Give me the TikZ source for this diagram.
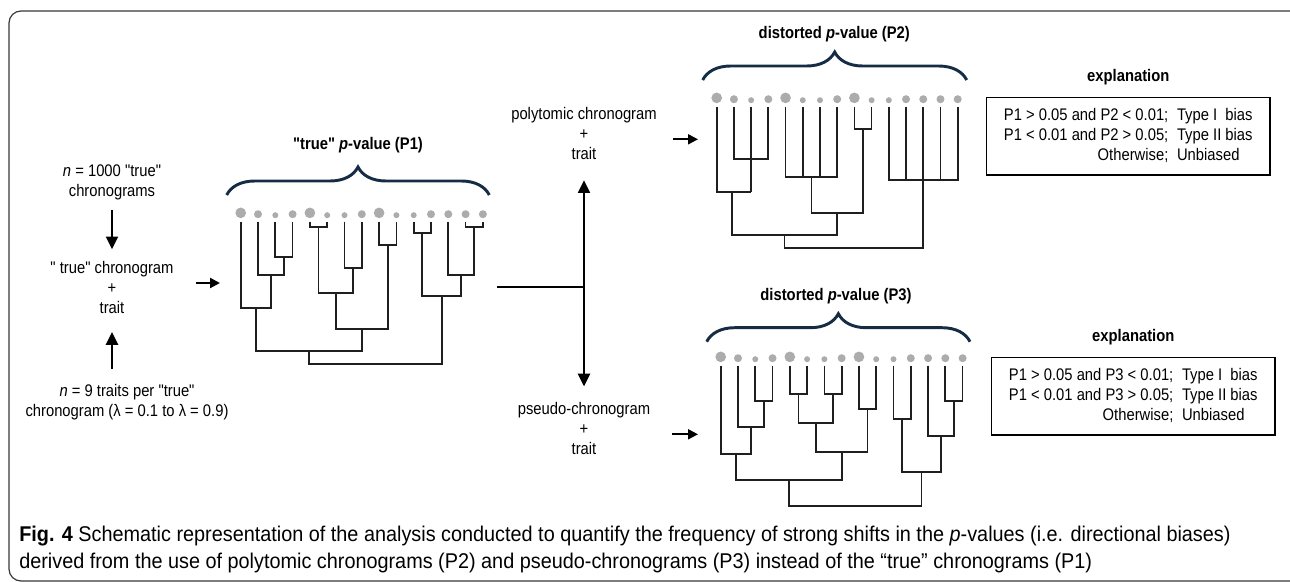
\documentclass[tikz,border=0pt]{standalone}
\usepackage{fontspec}
\setmainfont{Liberation Sans}[Ligatures=TeXOff,FakeStretch=0.88]
\newfontfamily\capfont{Liberation Sans}[Ligatures=TeXOff,FakeStretch=0.93]
\usepackage{tikz}
\usetikzlibrary{
  arrows.meta,
  positioning,
  calc,
  decorations.pathreplacing}
\definecolor{bracenavy}{RGB}{22,44,68}
\definecolor{leafgray}{RGB}{172,172,172}
\definecolor{framegray}{RGB}{55,55,55}
\tikzset{every picture/.style={font=\fontsize{12.6}{15}\selectfont}}
\def\leafsizes{0/4,1/3,2/2.25,3/3,4/4,5/2.25,6/2.25,7/3,8/4,9/2.25,10/2.25,11/3,12/3,13/3,14/3}

\begin{document}
\begin{tikzpicture}[x=0.75pt,y=-0.75pt,
  branch/.style={line width=1.3pt,draw=black!88,line join=miter},
  bigarrow/.style={line width=1.6pt,-{Triangle[length=9.5pt,width=9pt]}},
  smallarrow/.style={line width=1.6pt,-{Triangle[length=7.5pt,width=7.5pt]}},
  curly/.style={decorate,decoration={brace,amplitude=21pt},line width=2.2pt,draw=bracenavy},
  bracelabel/.style={font=\fontsize{12.6}{15}\selectfont\bfseries},
  stage/.style={align=center,inner sep=2pt},
  explbox/.style={draw,line width=0.9pt,minimum width=212.5pt,minimum height=58.3pt,inner sep=0pt}]
\useasboundingbox (0,0) rectangle (1290,582);
\draw[framegray,line width=0.9pt,rounded corners=9pt] (9,581) rectangle (1310,11);

% left column
\node[stage] (nTrue) at (112,182.5) {\textit{n} = 1000 "true"\\chronograms};
\node[stage] (trueC) at (112,287) {" true" chronogram\\+\\trait};
\node[stage] (nTraits) at (127,402) {\textit{n} = 9 traits per "true"\\chronogram (λ = 0.1 to λ = 0.9)};
\draw[bigarrow,shorten <=5.5pt,shorten >=6.5pt] (nTrue) -- (trueC);
\draw[bigarrow,shorten <=9pt,shorten >=12pt] (nTraits.north -| trueC) -- (trueC.south);
\coordinate (p1in) at (220,283);
\draw[smallarrow] ([xshift=14.5pt]trueC.east |- p1in) -- (p1in);

% true tree
\node[bracelabel] (p1lab) at (358,145) {"true" \textit{p}-value (P1)};
\draw[curly] (226.7,195) -- (489.3,195);
\begin{scope}[shift={(240.7,221.7)},x=12.975pt]
  \foreach \i/\r in \leafsizes
    \fill[leafgray] (\i,-3.5) ++(0pt,\r pt) circle[radius=\r pt];
  \draw[branch] (2,0) |- (3,35) -- (3,0);
  \draw[branch] (1,0) |- (2.5,53.3) -- (2.5,35);
  \draw[branch] (0,0) |- (1.75,86) -- (1.75,53.3);
  \draw[branch] (4,0) |- (5,5.6) -- (5,0);
  \draw[branch] (6,0) |- (7,46.6) -- (7,0);
  \draw[branch] (4.5,5.6) |- (6.5,71.6) -- (6.5,46.6);
  \draw[branch] (8,0) |- (9,23.3) -- (9,0);
  \draw[branch] (5.5,71.6) |- (8.5,107.3) -- (8.5,23.3);
  \draw[branch] (0.875,86) |- (7,129.3) -- (7,107.3);
  \draw[branch] (10,0) |- (11,11) -- (11,0);
  \draw[branch] (13,0) |- (14,5.6) -- (14,0);
  \draw[branch] (12,0) |- (13.5,53.3) -- (13.5,5.6);
  \draw[branch] (10.5,11) |- (12.75,74.3) -- (12.75,53.3);
  \draw[branch] (3.9375,129.3) |- (11.625,142.3) -- (11.625,74.3);
\end{scope}

% split to the two distorted trees
\coordinate (p1out) at (497,287.3);
\coordinate (split) at (584,287.3);
\node[stage] (polyC) at (584,133.8) {polytomic chronogram\\+\\trait};
\node[stage] (pseudoC) at (584,428.8) {pseudo-chronogram\\+\\trait};
\draw[line width=1.6pt] (p1out) -- (split);
\draw[bigarrow,shorten >=13pt] (split) -- (polyC);
\draw[bigarrow,shorten >=10pt] (split) -- (pseudoC);
\coordinate (p2in) at (698,139.3);
\coordinate (p3in) at (698,434.3);
\draw[smallarrow] ([xshift=10pt]polyC.east |- p2in) -- (p2in);
\draw[smallarrow] ([xshift=14.5pt]pseudoC.east |- p3in) -- (p3in);

% polytomic tree
\node[bracelabel] (p2lab) at (834.3,34) {distorted \textit{p}-value (P2)};
\draw[curly] (702.7,80) -- (966.7,80);
\begin{scope}[shift={(716.7,106.7)},x=12.91pt]
  \foreach \i/\r in \leafsizes
    \fill[leafgray] (\i,-3.5) ++(0pt,\r pt) circle[radius=\r pt];
  \draw[branch] (1,0) |- (3,52.6) -- (3,0);
  \draw[branch] (2,0) -- (2,85.6);
  \draw[branch] (0,0) |- (2,85.6);
  \draw[branch] (4,0) |- (7,70.6) -- (7,0);
  \foreach \i in {5,6}
    \draw[branch] (\i,0) -- (\i,70.6);
  \draw[branch] (8,0) |- (9,22.6) -- (9,0);
  \draw[branch] (5.5,70.6) |- (8.5,106) -- (8.5,22.6);
  \draw[branch] (0.875,85.6) |- (7,128.3) -- (7,106);
  \draw[branch] (10,0) |- (14,73.3) -- (14,0);
  \foreach \i in {11,13}
    \draw[branch] (\i,0) -- (\i,73.3);
  \draw[branch] (3.9375,128.3) |- (12,141.6) -- (12,0);
\end{scope}

% pseudo tree
\node[bracelabel] (p3lab) at (836,295.7) {distorted \textit{p}-value (P3)};
\draw[curly] (706.7,341.7) -- (970,341.7);
\begin{scope}[shift={(720.7,365.7)},x=12.96pt]
  \foreach \i/\r in \leafsizes
    \fill[leafgray] (\i,-3.5) ++(0pt,\r pt) circle[radius=\r pt];
  \draw[branch] (2,0) |- (3,35) -- (3,0);
  \draw[branch] (1,0) |- (2.5,61.6) -- (2.5,35);
  \draw[branch] (0,0) |- (1.75,88.3) -- (1.75,61.6);
  \draw[branch] (4,0) |- (5,28.6) -- (5,0);
  \draw[branch] (6,0) |- (7,28.6) -- (7,0);
  \draw[branch] (4.5,28.6) |- (6.5,57.6) -- (6.5,28.6);
  \draw[branch] (8,0) |- (9,43.6) -- (9,0);
  \draw[branch] (5.5,57.6) |- (8.5,86.3) -- (8.5,43.6);
  \draw[branch] (0.875,88.3) |- (7,114.3) -- (7,86.3);
  \draw[branch] (10,0) |- (11,53.3) -- (11,0);
  \draw[branch] (13,0) |- (14,35) -- (14,0);
  \draw[branch] (12,0) |- (13.5,70.3) -- (13.5,35);
  \draw[branch] (10.5,53.3) |- (12.75,106) -- (12.75,70.3);
  \draw[branch] (3.9375,114.3) |- (11.625,140) -- (11.625,106);
\end{scope}

% explanations
\node[explbox] (expl2) at (1128.3,136.2) {\begin{tabular}{@{}r@{\hspace{6.5pt}}l@{}}
  P1 > 0.05 and P2 < 0.01; & Type I\ \ bias\\
  P1 < 0.01 and P2 > 0.05; & Type II bias\\
  Otherwise; & Unbiased
\end{tabular}};
\node[bracelabel,above=5pt of expl2] (expl2lab) {explanation};
\node[explbox] (expl3) at (1133.3,396.2) {\begin{tabular}{@{}r@{\hspace{6.5pt}}l@{}}
  P1 > 0.05 and P3 < 0.01; & Type I\ \ bias\\
  P1 < 0.01 and P3 > 0.05; & Type II bias\\
  Otherwise; & Unbiased
\end{tabular}};
\node[bracelabel,above=5pt of expl3] (expl3lab) {explanation};

% caption
\node[anchor=west,align=left,inner sep=0pt,font=\capfont\fontsize{16}{20.25}\selectfont] (caption) at (19,549.5)
  {\textbf{Fig. 4} Schematic representation of the analysis conducted to quantify the frequency of strong shifts in the \textit{p}-values (i.e. directional biases)\\
   derived from the use of polytomic chronograms (P2) and pseudo-chronograms (P3) instead of the “true” chronograms (P1)};
\end{tikzpicture}
\end{document}
